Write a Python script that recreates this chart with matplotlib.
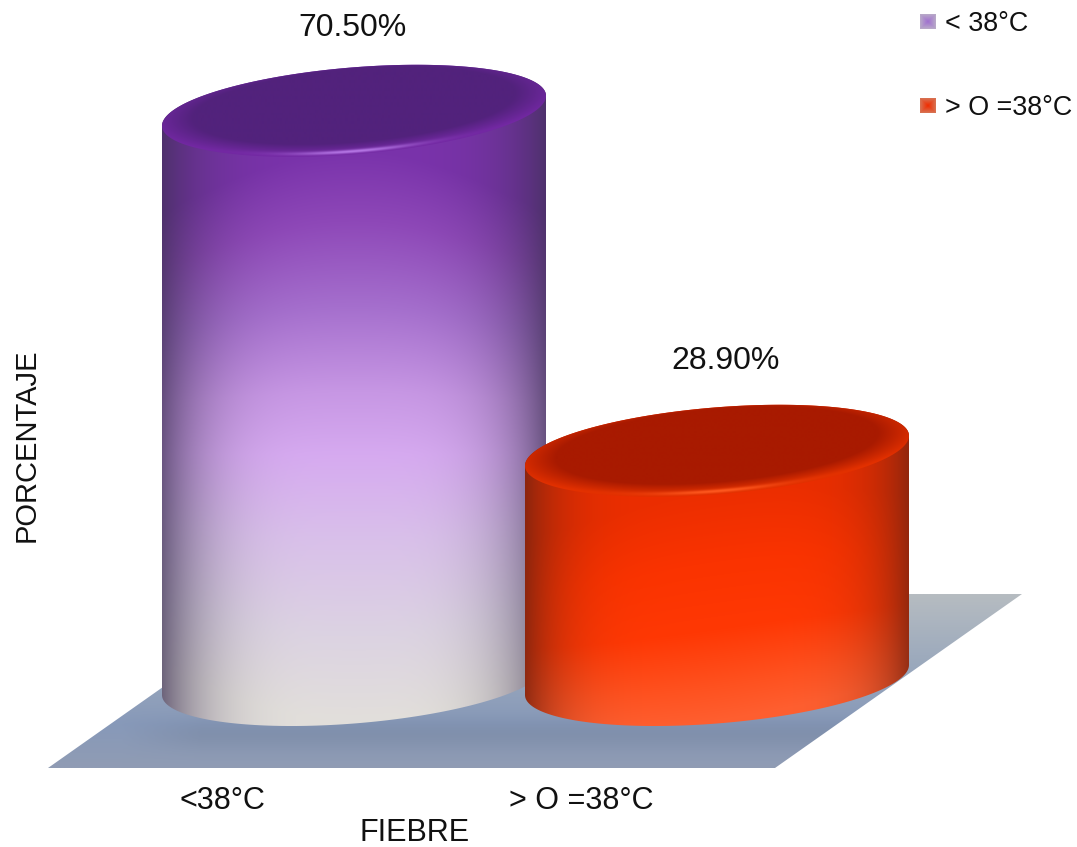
import numpy as np
import matplotlib
matplotlib.use('Agg')
import matplotlib.pyplot as plt
from matplotlib.colors import to_rgb
from matplotlib.patches import Polygon

categories = ['<38°C', '> O =38°C']
values = [70.5, 28.9]
value_labels = ['70.50%', '28.90%']
legend_labels = ['< 38°C', '> O =38°C']

W, H = 1077, 847
Y0_PX = 687.0       # pixel row of value 0
PX_PER_PCT = 8.173
X0_PX = 354.0       # pixel column of first category
PX_PER_CAT = 363.0
HALF_W = 192.0
ELL_B = 43.5
ELL_SKEW = 15.0

FONT = ['Liberation Sans']

# colour stops per cylinder: (0 = top of body, 1 = bottom of body)
purple_pos = [0.0, 0.12, 0.27, 0.42, 0.53, 0.68, 0.85, 1.0]
purple_col = ['#7a33ab', '#8e48b8', '#a56fcd', '#c797e4', '#d6aaf0', '#d9c0ea', '#dcd3e2', '#e2dfdb']
red_pos = [0.0, 0.3, 0.6, 0.85, 1.0]
red_col = ['#ec2e00', '#fa3300', '#ff3804', '#ff5220', '#ff5f30']


def xd(px):
    return (px - X0_PX) / PX_PER_CAT


def yd(px):
    return (Y0_PX - px) / PX_PER_PCT


def ramp(t, pos, cols):
    rgb = np.array([to_rgb(c) for c in cols])
    return np.dstack([np.interp(t, pos, rgb[:, i]) for i in range(3)])


def outline(cx, cy, t):
    # tilted ellipse, returned in pixels
    return cx + HALF_W * np.cos(t), cy + ELL_B * np.sin(t) - ELL_SKEW * np.cos(t)


def show(ax, img, x0, x1, y0, y1, clip=None, zorder=2):
    im = ax.imshow(img, extent=(xd(x0), xd(x1), yd(y1), yd(y0)), origin='upper',
                   aspect='auto', interpolation='bilinear', zorder=zorder)
    if clip is not None:
        clip.set_transform(ax.transData)
        clip.set_facecolor('none')
        clip.set_edgecolor('none')
        ax.add_patch(clip)
        im.set_clip_path(clip)
    return im


def draw_floor(ax):
    corners = [(48, 768), (775, 768), (1022, 594), (295, 594)]
    xx, yy = np.meshgrid(np.linspace(48, 1022, 300), np.linspace(594, 768, 120))
    t = (yy - 594) / 174.0
    img = ramp(t, [0, 0.35, 0.75, 1], ['#b6bcc1', '#9eabbd', '#8799b9', '#909cb4'])
    # contact shadow in front of the cylinders
    shade = 0.06 * np.exp(-((yy - 735) / 16.0) ** 2) * np.clip((xx - 120) / 80, 0, 1)
    img = img * (1 - shade[..., None])
    clip = Polygon([(xd(x), yd(y)) for x, y in corners], closed=True)
    show(ax, img, 48, 1022, 594, 768, clip, zorder=1)


def draw_cylinder(ax, idx, value, pos, cols, edge_dark, k_left, k_right, p, slant, inner, rim, glow, z):
    cx = X0_PX + idx * PX_PER_CAT
    top_y = Y0_PX - value * PX_PER_PCT
    base_y = Y0_PX - 7
    x0, x1 = cx - HALF_W, cx + HALF_W
    y0, y1 = top_y - ELL_B - 20, base_y + ELL_B + 20

    xs = np.arange(x0, x1 + 1)
    ys = np.arange(y0, y1 + 1)
    xx, yy = np.meshgrid(xs, ys)
    s = (xx - cx) / HALF_W

    # body: vertical ramp bent towards the sides, darker at both edges
    t = (yy - (top_y + ELL_B)) / (base_y - top_y)
    t_eff = t + (t - 0.52) * 0.25 * s ** 2 + slant * s
    body = ramp(np.clip(t_eff, 0, 1), pos, cols)
    k = np.where(s < 0, k_left, k_right)
    dark = (k * np.abs(s) ** p)[..., None]
    body = body * (1 - dark) + np.array(to_rgb(edge_dark)) * dark

    tt = np.linspace(0, np.pi, 120)
    fx, fy = outline(cx, base_y, tt)
    bx, by = outline(cx, top_y, tt + np.pi)
    poly = [(xd(a), yd(b)) for a, b in zip(fx, fy)] + [(xd(a), yd(b)) for a, b in zip(bx, by)]
    show(ax, body, x0, x1, y0, y1, Polygon(poly, closed=True), zorder=z)

    # top face: dark centre, lighter rim, thin highlight at the front
    v = (yy - top_y + ELL_SKEW * s) / ELL_B
    r = np.sqrt(s ** 2 + (v + 0.1) ** 2)
    mix = np.clip((r - 0.84) / 0.22, 0, 1)[..., None]
    face = np.array(to_rgb(inner)) * (1 - mix) + np.array(to_rgb(rim)) * mix
    hl = (np.exp(-((r - 1.05) / 0.04) ** 2) * np.exp(-((s - 0.0) / 0.32) ** 2) * (v > 0))[..., None]
    face = face * (1 - hl) + np.array(to_rgb(glow)) * hl
    tt = np.linspace(0, 2 * np.pi, 240)
    ex, ey = outline(cx, top_y, tt)
    show(ax, face, x0, x1, y0, y1, Polygon([(xd(a), yd(b)) for a, b in zip(ex, ey)], closed=True), zorder=z + 0.1)
    return cx, top_y


def legend_swatch(ax, y_px, c_in, c_out):
    xx, yy = np.meshgrid(np.linspace(-1, 1, 16), np.linspace(-1, 1, 15))
    m = np.maximum(np.abs(xx), np.abs(yy))[..., None]
    img = np.array(to_rgb(c_in)) * (1 - m) + np.array(to_rgb(c_out)) * m
    show(ax, img, 920, 936, y_px - 7.5, y_px + 7.5, zorder=5)


fig = plt.figure(figsize=(W / 100, H / 100), dpi=100)
ax = fig.add_axes([0, 0, 1, 1])

draw_floor(ax)

tops = []
tops.append(draw_cylinder(ax, 0, values[0], purple_pos, purple_col, '#3c3052', 0.7, 0.7, 4, 0.0,
                          '#52227c', '#7228a2', '#b678e6', 3))
tops.append(draw_cylinder(ax, 1, values[1], red_pos, red_col, '#7c2410', 0.85, 0.8, 5, 0.12,
                          '#a81a00', '#e23000', '#ff5a20', 4))

ax.set_xlim(xd(0), xd(W))
ax.set_ylim(yd(H), yd(0))
ax.axis('off')

label_shift = [(-1, 83), (9, 90)]
for (cx, top_y), lab, (dx, dy) in zip(tops, value_labels, label_shift):
    ax.text(xd(cx + dx), yd(top_y - dy), lab, fontsize=23, family=FONT, ha='center', va='center', color='#111111')

tick_px = [222, 581]
for x, lab in zip(tick_px, categories):
    ax.text(xd(x), yd(801), lab, fontsize=22, family=FONT, ha='center', va='center', color='#111111')

ax.text(xd(415), yd(833), 'FIEBRE', fontsize=22, family=FONT, ha='center', va='center', color='#111111')
ax.text(xd(27), yd(445), 'PORCENTAJE', fontsize=21, family=FONT, rotation=90,
        ha='center', va='center', color='#111111')

legend_rows = [22, 106]
legend_cols = [('#a070d0', '#b8a8c8'), ('#f02c00', '#d87050')]
for y, lab, (c1, c2) in zip(legend_rows, legend_labels, legend_cols):
    legend_swatch(ax, y, c1, c2)
    ax.text(xd(945), yd(y + 2), lab, fontsize=19.4, family=FONT, ha='left', va='center', color='#111111')

fig.savefig('out.png', dpi=100)
